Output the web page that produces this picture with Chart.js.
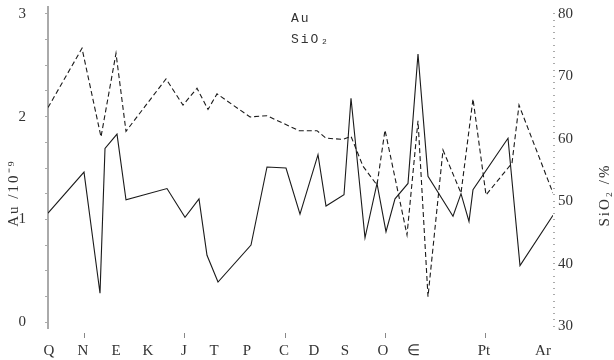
<!DOCTYPE html>
<html>
<head>
<meta charset="utf-8">
<script src="https://cdn.jsdelivr.net/npm/chart.js"></script>
<style>
  body { margin: 0; background: #fff; }
</style>
</head>
<body>
<canvas id="graficoAuSiO2" width="614" height="360"></canvas>
<script>
// 1. Datos
const etiquetas = ['Q', 'N', 'E', 'K', 'J', 'T', 'P', 'C', 'D', 'S', 'O', '∈', 'Pt', 'Ar'];
const posEtiquetas = [0.1, 3.5, 6.8, 10.0, 13.6, 16.6, 19.9, 23.6, 26.6, 29.7, 33.5, 36.5, 43.6, 49.5];
const posMarcas = [3.6, 13.6, 23.7, 33.7, 43.7];

// Au (linea continua, eje izquierdo)
const auX = [0, 3.6, 5.2, 5.7, 6.9, 7.8, 11.9, 13.7, 15.1, 15.9, 17.0, 20.3, 21.9, 23.8, 25.2, 27.0, 27.8,
  29.6, 30.3, 31.7, 32.9, 33.8, 34.7, 36.0, 37.0, 38.0, 40.5, 41.3, 42.1, 42.5, 46.0, 47.2, 50.5];
const auValores = [1.06, 1.46, 0.28, 1.69, 1.83, 1.19, 1.30, 1.02, 1.20, 0.65, 0.39, 0.75, 1.51, 1.50, 1.05, 1.63, 1.13,
  1.24, 2.18, 0.82, 1.35, 0.88, 1.20, 1.35, 2.61, 1.42, 1.03, 1.25, 0.98, 1.29, 1.79, 0.55, 1.04];

// SiO2 (linea discontinua, eje derecho)
const sio2X = [0, 3.4, 5.3, 6.8, 7.8, 11.8, 13.5, 14.9, 16.0, 16.9, 20.2, 21.9, 25.1, 26.9, 27.8,
  29.5, 30.3, 31.5, 32.9, 33.7, 35.9, 37.0, 38.0, 39.5, 41.3, 42.5, 43.8, 46.4, 47.1, 50.5];
const sio2Valores = [65.0, 74.5, 60.3, 73.7, 61.2, 69.6, 65.4, 68.1, 64.7, 67.2, 63.5, 63.7, 61.3, 61.3, 60.1,
  59.9, 60.4, 55.6, 52.6, 61.4, 44.6, 62.9, 34.7, 58.2, 51.3, 66.4, 51.0, 56.1, 65.4, 51.3];

const ticksAu = [0, 1, 2, 3];
const ticksSiO2 = [30, 40, 50, 60, 70, 80];

// 2. Textos fuera de los ejes (titulos y leyenda)
const textosExtra = {
  id: 'textosExtra',
  afterDraw(chart) {
    const ctx = chart.ctx;
    ctx.save();
    ctx.fillStyle = '#333';
    ctx.textAlign = 'center';
    ctx.textBaseline = 'middle';
    ctx.font = '15px "Liberation Serif"';
    ctx.letterSpacing = '2px';

    ctx.save();
    ctx.translate(14, 193);
    ctx.rotate(-Math.PI / 2);
    ctx.fillText('Au /10⁻⁹', 0, 0);
    ctx.restore();

    ctx.save();
    ctx.translate(605, 195);
    ctx.rotate(-Math.PI / 2);
    ctx.fillText('SiO₂ /%', 0, 0);
    ctx.restore();

    ctx.textAlign = 'left';
    ctx.font = '13px "Liberation Mono"';
    ctx.fillText('Au', 291, 19);
    ctx.fillText('SiO₂', 291, 40);
    ctx.restore();
  }
};

const fuenteTicks = { family: 'Liberation Serif', size: 15 };

// sin relleno extra que meten las etiquetas de los ejes
function sinRelleno(s) {
  s.paddingTop = 0;
  s.paddingBottom = 0;
  s.paddingLeft = 0;
  s.paddingRight = 0;
}

// 3. Configuracion del grafico
const configuracion = {
  type: 'line',
  data: {
    datasets: [{
      label: 'Au',
      data: auX.map((x, i) => ({ x: x, y: auValores[i] })),
      xAxisID: 'x',
      yAxisID: 'y',
      borderColor: '#1a1a1a',
      borderWidth: 1.1,
      pointRadius: 0,
      tension: 0,
      fill: false
    }, {
      label: 'SiO₂',
      data: sio2X.map((x, i) => ({ x: x, y: sio2Valores[i] })),
      xAxisID: 'x',
      yAxisID: 'y1',
      borderColor: '#1a1a1a',
      borderWidth: 1.1,
      borderDash: [5, 3],
      pointRadius: 0,
      tension: 0,
      fill: false
    }]
  },
  options: {
    responsive: false,
    animation: false,
    layout: { padding: { top: 7, left: 0, right: 0, bottom: 0 } },
    plugins: {
      legend: { display: false },
      tooltip: { enabled: false }
    },
    scales: {
      x: {
        type: 'linear',
        position: 'bottom',
        weight: 0,
        min: 0,
        max: 50.5,
        afterBuildTicks: s => { s.ticks = posMarcas.map(v => ({ value: v })); },
        afterFit: s => { s.height = 10; sinRelleno(s); },
        ticks: { display: false },
        grid: {
          drawOnChartArea: false,
          tickLength: 10,
          tickColor: '#888',
          tickBorderDash: [0, 5, 5, 20]
        },
        border: { display: false }
      },
      xEtiquetas: {
        type: 'linear',
        position: 'bottom',
        weight: 1,
        min: 0,
        max: 50.5,
        afterBuildTicks: s => { s.ticks = posEtiquetas.map(v => ({ value: v })); },
        afterFit: s => { s.height = 22; sinRelleno(s); },
        ticks: {
          autoSkip: false,
          maxRotation: 0,
          padding: 4,
          color: '#333',
          font: fuenteTicks,
          callback: (v, i) => etiquetas[i]
        },
        grid: { display: false, drawTicks: false },
        border: { display: false }
      },
      y: {
        position: 'left',
        min: -0.058,
        max: 3.068,
        afterBuildTicks: s => {
          const lista = [];
          for (let i = 0; i <= 12; i++) lista.push({ value: i / 4 });
          s.ticks = lista;
        },
        afterFit: s => { s.width = 48; sinRelleno(s); },
        ticks: {
          autoSkip: false,
          padding: 19,
          color: '#333',
          font: fuenteTicks,
          callback: v => ticksAu.includes(v) ? v : ''
        },
        grid: { drawOnChartArea: false, tickLength: 3, tickColor: '#aaa' },
        border: { display: true, color: '#aaa', width: 2 }
      },
      y1: {
        position: 'right',
        min: 29.68,
        max: 81.12,
        afterBuildTicks: s => {
          const lista = [];
          for (let v = 30; v <= 80; v++) lista.push({ value: v });
          s.ticks = lista;
        },
        afterFit: s => { s.width = 61; sinRelleno(s); },
        ticks: {
          autoSkip: false,
          padding: 3,
          color: '#333',
          font: fuenteTicks,
          callback: v => ticksSiO2.includes(v) ? v : ''
        },
        grid: { drawOnChartArea: false, tickLength: 2, tickColor: '#aaa' },
        border: { display: false }
      }
    }
  },
  plugins: [textosExtra]
};

// 4. Dibujar
const ctx = document.getElementById('graficoAuSiO2').getContext('2d');
new Chart(ctx, configuracion);
</script>
</body>
</html>
